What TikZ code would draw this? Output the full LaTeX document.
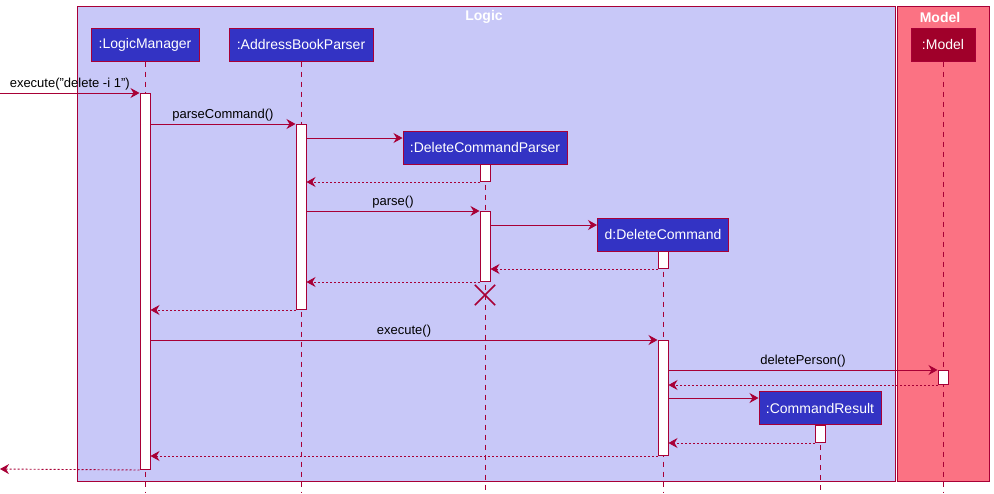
\documentclass[tikz,border=0pt]{standalone}
\usepackage{fontspec}
\setmainfont{Liberation Sans}
\usetikzlibrary{arrows.meta}
\definecolor{bord}{HTML}{A80036}
\definecolor{logicbg}{HTML}{C8C8F8}
\definecolor{modelbg}{HTML}{FB7283}
\definecolor{partbg}{HTML}{3333C4}
\definecolor{modelpart}{HTML}{A0002A}
\tikzset{
  part/.style={draw=bord, fill=partbg, text=white, font=\fontsize{14}{16}\selectfont, minimum height=33pt, inner sep=0pt, line width=1pt},
  act/.style={draw=bord, fill=white, minimum width=10pt, inner sep=0pt, line width=1pt, anchor=north},
  msg/.style={draw=bord, line width=0.9pt, -{Stealth[length=9pt,width=10pt,inset=3pt]}},
  ret/.style={msg, dash pattern=on 2pt off 2pt},
  life/.style={draw=bord, dash pattern=on 5pt off 5pt, line width=0.9pt},
  lbl/.style={font=\fontsize{13}{15}\selectfont, text=black, inner sep=0pt, above=2.5pt},
  frame/.style={draw=bord, line width=1pt},
  ftitle/.style={font=\bfseries\fontsize{14}{16}\selectfont, text=white, inner sep=0pt}
}
\begin{document}
\begin{tikzpicture}[x=1pt,y=-1pt]
\useasboundingbox (0,0) rectangle (994,493);
% frames
\draw[frame, fill=logicbg] (77,6) rectangle (895,481);
\draw[frame, fill=modelbg] (897,6) rectangle (989,481);
\node[ftitle] (tlogic) at (484,17) {Logic};
\node[ftitle] (tmodel) at (940,17) {Model};
% participants
\node[part, minimum width=108pt] (lm) at (145,44.5) {:LogicManager};
\node[part, minimum width=144pt] (abp) at (301,44.5) {:AddressBookParser};
\node[part, minimum width=164pt] (dcp) at (485,147.5) {:DeleteCommandParser};
\node[part, minimum width=131pt] (dc) at (663,234.5) {d:DeleteCommand};
\node[part, minimum width=122pt] (cr) at (820,408) {:CommandResult};
\node[part, minimum width=64pt, fill=modelpart] (mdl) at (943,44.5) {:Model};
% lifeline ends
\coordinate (lmend) at (145,493);
\coordinate (abpend) at (301,493);
\coordinate (dcpend) at (485,493);
\coordinate (dcend) at (663,493);
\coordinate (crend) at (820,493);
\coordinate (mdlend) at (943,493);
\draw[life] (lm.south) -- (lmend);
\draw[life] (abp.south) -- (abpend);
\draw[life] (dcp.south) -- (dcpend);
\draw[life] (dc.south) -- (dcend);
\draw[life] (cr.south) -- (crend);
\draw[life] (mdl.south) -- (mdlend);
% activations
\node[act, minimum height=376pt] (a1) at (145,93) {};
\node[act, minimum height=185pt] (a2) at (301,124) {};
\node[act, minimum height=17pt] (a3) at (485,164) {};
\node[act, minimum height=70pt] (a4) at (485,211) {};
\node[act, minimum height=17pt] (a5) at (663,251) {};
\node[act, minimum height=115pt] (a6) at (663,340) {};
\node[act, minimum height=14pt] (a7) at (943,370) {};
\node[act, minimum height=17pt] (a8) at (820,425) {};
% destroy
\node[inner sep=0pt, minimum size=20pt] (x) at (485,295) {};
\draw[bord, line width=1.5pt] (x.north west) -- (x.south east) (x.south west) -- (x.north east);
% external
\coordinate (ext1) at (0,93);
\coordinate (ext2) at (0,469);
% messages
\draw[msg] (ext1) -- (a1.north west) node[lbl, midway] {execute("delete -i 1")};
\draw[msg] (a1.east |- 0,124) -- (a2.north west) node[lbl, midway] {parseCommand()};
\draw[msg] (a2.east |- 0,138) -- (dcp.west |- 0,138);
\draw[ret] (a3.south west) -- (a2.east |- a3.south);
\draw[msg] (a2.east |- 0,211) -- (a4.north west) node[lbl, midway] {parse()};
\draw[msg] (a4.east |- 0,225) -- (dc.west |- 0,225);
\draw[ret] (a5.south west) -- (a4.east |- a5.south);
\draw[ret] (a4.south west) -- (a2.east |- a4.south);
\draw[ret] (a2.south west) -- (a1.east |- a2.south);
\draw[msg] (a1.east |- 0,340) -- (a6.north west) node[lbl, midway] {execute()};
\draw[msg] (a6.east |- 0,370) -- (a7.north west) node[lbl, midway] {deletePerson()};
\draw[ret] (a7.south west) -- (a6.east |- a7.south);
\draw[msg] (a6.east |- 0,398) -- (cr.west |- 0,398);
\draw[ret] (a8.south west) -- (a6.east |- a8.south);
\draw[ret] (a6.south west) -- (a1.east |- a6.south);
\draw[ret] (a1.south west) -- (ext2);
\end{tikzpicture}
\end{document}
